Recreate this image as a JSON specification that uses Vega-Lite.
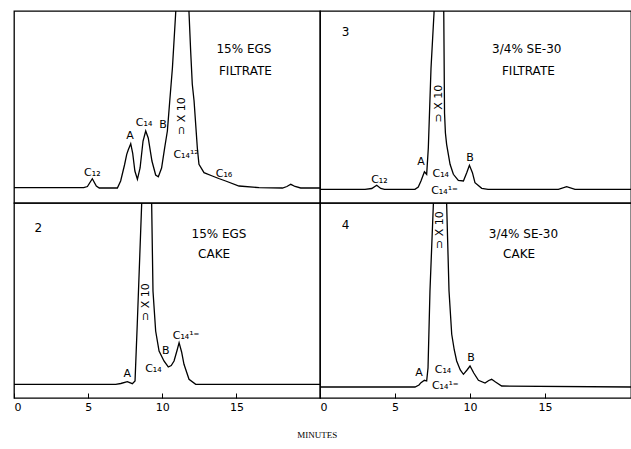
{
  "$schema": "https://vega.github.io/schema/vega-lite/v6.json",
  "padding": {"left": 12, "top": 10, "right": 0, "bottom": 0},
  "background": "white",
  "title": {"text": "MINUTES", "orient": "bottom", "anchor": "middle", "font": "Liberation Serif", "fontSize": 9, "fontWeight": "normal", "color": "black", "offset": 18, "dx": -5},
  "datasets": {
    "curves": [
      {"p": "TL", "t": 0, "v": 15.3}, {"p": "TL", "t": 4.7, "v": 15.3}, {"p": "TL", "t": 4.95, "v": 16.5}, {"p": "TL", "t": 5.28, "v": 24.3}, {"p": "TL", "t": 5.55, "v": 17}, {"p": "TL", "t": 5.75, "v": 15},
      {"p": "TL", "t": 6.97, "v": 15}, {"p": "TL", "t": 7.19, "v": 22}, {"p": "TL", "t": 7.45, "v": 38}, {"p": "TL", "t": 7.6, "v": 48.7}, {"p": "TL", "t": 7.7, "v": 53}, {"p": "TL", "t": 7.87, "v": 59.3},
      {"p": "TL", "t": 8.0, "v": 50}, {"p": "TL", "t": 8.15, "v": 32}, {"p": "TL", "t": 8.32, "v": 23.7}, {"p": "TL", "t": 8.5, "v": 35}, {"p": "TL", "t": 8.7, "v": 62}, {"p": "TL", "t": 8.88, "v": 72},
      {"p": "TL", "t": 9.05, "v": 65}, {"p": "TL", "t": 9.3, "v": 42}, {"p": "TL", "t": 9.55, "v": 28}, {"p": "TL", "t": 9.73, "v": 26.3}, {"p": "TL", "t": 9.95, "v": 35}, {"p": "TL", "t": 10.16, "v": 55.3},
      {"p": "TL", "t": 10.34, "v": 72}, {"p": "TL", "t": 10.5, "v": 102}, {"p": "TL", "t": 10.68, "v": 135}, {"p": "TL", "t": 10.9, "v": 190}, {"p": "TL", "t": 11.35, "v": 330}, {"p": "TL", "t": 11.8, "v": 190},
      {"p": "TL", "t": 11.91, "v": 152}, {"p": "TL", "t": 12.02, "v": 118.7}, {"p": "TL", "t": 12.14, "v": 102}, {"p": "TL", "t": 12.36, "v": 55}, {"p": "TL", "t": 12.47, "v": 38.7}, {"p": "TL", "t": 12.81, "v": 30.3},
      {"p": "TL", "t": 13.37, "v": 27}, {"p": "TL", "t": 13.8, "v": 24.5}, {"p": "TL", "t": 14.27, "v": 22}, {"p": "TL", "t": 15.17, "v": 17}, {"p": "TL", "t": 16.52, "v": 15.3}, {"p": "TL", "t": 18.1, "v": 15},
      {"p": "TL", "t": 18.4, "v": 16.5}, {"p": "TL", "t": 18.66, "v": 18.7}, {"p": "TL", "t": 18.95, "v": 16.5}, {"p": "TL", "t": 19.33, "v": 15}, {"p": "TL", "t": 20.63, "v": 15},

      {"p": "TR", "t": 0, "v": 13.7}, {"p": "TR", "t": 3.0, "v": 13.7}, {"p": "TR", "t": 3.45, "v": 14.5}, {"p": "TR", "t": 3.78, "v": 17.7}, {"p": "TR", "t": 4.05, "v": 14.5}, {"p": "TR", "t": 4.3, "v": 13.7},
      {"p": "TR", "t": 6.33, "v": 13.7}, {"p": "TR", "t": 6.55, "v": 16}, {"p": "TR", "t": 6.73, "v": 22}, {"p": "TR", "t": 6.96, "v": 31.3}, {"p": "TR", "t": 7.11, "v": 28.7}, {"p": "TR", "t": 7.22, "v": 55},
      {"p": "TR", "t": 7.4, "v": 135}, {"p": "TR", "t": 7.6, "v": 190}, {"p": "TR", "t": 7.93, "v": 420}, {"p": "TR", "t": 8.25, "v": 190}, {"p": "TR", "t": 8.3, "v": 90}, {"p": "TR", "t": 8.36, "v": 70},
      {"p": "TR", "t": 8.44, "v": 58.7}, {"p": "TR", "t": 8.67, "v": 38.7}, {"p": "TR", "t": 8.89, "v": 28.7}, {"p": "TR", "t": 9.22, "v": 22.7}, {"p": "TR", "t": 9.56, "v": 22}, {"p": "TR", "t": 9.78, "v": 30.3},
      {"p": "TR", "t": 9.96, "v": 37.7}, {"p": "TR", "t": 10.16, "v": 30.3}, {"p": "TR", "t": 10.33, "v": 20.3}, {"p": "TR", "t": 10.78, "v": 14.7}, {"p": "TR", "t": 11.2, "v": 13.7}, {"p": "TR", "t": 15.89, "v": 13.7},
      {"p": "TR", "t": 16.44, "v": 16.3}, {"p": "TR", "t": 17.0, "v": 13.7}, {"p": "TR", "t": 20.73, "v": 13.7},

      {"p": "BL", "t": 0, "v": 13.7}, {"p": "BL", "t": 6.86, "v": 13.7}, {"p": "BL", "t": 7.2, "v": 14.5}, {"p": "BL", "t": 7.64, "v": 16.3}, {"p": "BL", "t": 7.98, "v": 14.3}, {"p": "BL", "t": 8.16, "v": 17},
      {"p": "BL", "t": 8.31, "v": 73.7}, {"p": "BL", "t": 8.61, "v": 195}, {"p": "BL", "t": 8.95, "v": 420}, {"p": "BL", "t": 9.28, "v": 195}, {"p": "BL", "t": 9.37, "v": 107}, {"p": "BL", "t": 9.55, "v": 67},
      {"p": "BL", "t": 9.78, "v": 47}, {"p": "BL", "t": 10.11, "v": 37}, {"p": "BL", "t": 10.4, "v": 31}, {"p": "BL", "t": 10.6, "v": 32.5}, {"p": "BL", "t": 10.79, "v": 37}, {"p": "BL", "t": 11.0, "v": 48},
      {"p": "BL", "t": 11.13, "v": 55.3}, {"p": "BL", "t": 11.3, "v": 46}, {"p": "BL", "t": 11.46, "v": 33.7}, {"p": "BL", "t": 11.8, "v": 18.7}, {"p": "BL", "t": 12.25, "v": 13.7}, {"p": "BL", "t": 20.63, "v": 13.7},

      {"p": "BR", "t": 0, "v": 11}, {"p": "BR", "t": 6.33, "v": 11}, {"p": "BR", "t": 6.6, "v": 13}, {"p": "BR", "t": 6.73, "v": 15.3}, {"p": "BR", "t": 6.96, "v": 17.7}, {"p": "BR", "t": 7.11, "v": 17},
      {"p": "BR", "t": 7.2, "v": 30}, {"p": "BR", "t": 7.33, "v": 107}, {"p": "BR", "t": 7.56, "v": 195}, {"p": "BR", "t": 8.0, "v": 420}, {"p": "BR", "t": 8.44, "v": 195}, {"p": "BR", "t": 8.6, "v": 107},
      {"p": "BR", "t": 8.78, "v": 63.7}, {"p": "BR", "t": 8.95, "v": 48}, {"p": "BR", "t": 9.11, "v": 37}, {"p": "BR", "t": 9.35, "v": 28}, {"p": "BR", "t": 9.56, "v": 23.7}, {"p": "BR", "t": 9.8, "v": 28},
      {"p": "BR", "t": 10.0, "v": 32}, {"p": "BR", "t": 10.25, "v": 25}, {"p": "BR", "t": 10.56, "v": 17.7}, {"p": "BR", "t": 11.0, "v": 15}, {"p": "BR", "t": 11.25, "v": 17.5}, {"p": "BR", "t": 11.44, "v": 18.7},
      {"p": "BR", "t": 11.7, "v": 16}, {"p": "BR", "t": 12.11, "v": 12}, {"p": "BR", "t": 20.73, "v": 11}
    ],
    "labels": [
      {"p": "TL", "k": "big", "t": 15.5, "v": 153.7, "s": "15% EGS"},
      {"p": "TL", "k": "big", "t": 15.6, "v": 132, "s": "FILTRATE"},
      {"p": "TL", "k": "lab", "t": 5.28, "v": 30.3, "s": "C₁₂"},
      {"p": "TL", "k": "lab", "t": 7.82, "v": 67, "s": "A"},
      {"p": "TL", "k": "lab", "t": 8.77, "v": 80, "s": "C₁₄"},
      {"p": "TL", "k": "lab", "t": 10.05, "v": 78, "s": "B"},
      {"p": "TL", "k": "rot", "t": 11.3, "v": 87, "s": "⊃ X 10"},
      {"p": "TL", "k": "lab", "t": 11.6, "v": 48, "s": "C₁₄¹²"},
      {"p": "TL", "k": "lab", "t": 14.16, "v": 29.3, "s": "C₁₆"},

      {"p": "TR", "k": "big", "t": 1.71, "v": 171.3, "s": "3"},
      {"p": "TR", "k": "big", "t": 13.78, "v": 153.7, "s": "3/4% SE-30"},
      {"p": "TR", "k": "big", "t": 13.89, "v": 132, "s": "FILTRATE"},
      {"p": "TR", "k": "lab", "t": 3.96, "v": 23, "s": "C₁₂"},
      {"p": "TR", "k": "lab", "t": 6.73, "v": 41.3, "s": "A"},
      {"p": "TR", "k": "lab", "t": 8.05, "v": 29.3, "s": "C₁₄"},
      {"p": "TR", "k": "lab", "t": 8.3, "v": 12, "s": "C₁₄¹⁼"},
      {"p": "TR", "k": "lab", "t": 10.0, "v": 45.3, "s": "B"},
      {"p": "TR", "k": "rot", "t": 7.9, "v": 99.5, "s": "⊃ X 10"},

      {"p": "BL", "k": "big", "t": 1.64, "v": 169.7, "s": "2"},
      {"p": "BL", "k": "big", "t": 13.82, "v": 163.7, "s": "15% EGS"},
      {"p": "BL", "k": "big", "t": 13.49, "v": 143.7, "s": "CAKE"},
      {"p": "BL", "k": "lab", "t": 7.64, "v": 24.3, "s": "A"},
      {"p": "BL", "k": "lab", "t": 9.4, "v": 29, "s": "C₁₄"},
      {"p": "BL", "k": "lab", "t": 10.23, "v": 47, "s": "B"},
      {"p": "BL", "k": "lab", "t": 11.6, "v": 62, "s": "C₁₄¹⁼"},
      {"p": "BL", "k": "rot", "t": 8.93, "v": 96, "s": "⊃ X 10"},

      {"p": "BR", "k": "big", "t": 1.71, "v": 173, "s": "4"},
      {"p": "BR", "k": "big", "t": 13.56, "v": 164.3, "s": "3/4% SE-30"},
      {"p": "BR", "k": "big", "t": 13.27, "v": 143.7, "s": "CAKE"},
      {"p": "BR", "k": "lab", "t": 6.6, "v": 25.3, "s": "A"},
      {"p": "BR", "k": "lab", "t": 8.2, "v": 27.7, "s": "C₁₄"},
      {"p": "BR", "k": "lab", "t": 8.35, "v": 12, "s": "C₁₄¹⁼"},
      {"p": "BR", "k": "lab", "t": 10.07, "v": 40.3, "s": "B"},
      {"p": "BR", "k": "rot", "t": 8.0, "v": 168, "s": "⊃ X 10"}
    ]
  },
  "columns": 2,
  "spacing": 0,
  "bounds": "flush",
  "align": "each",
  "concat": [
    {
      "width": 306, "height": 192,
      "layer": [
        {"data": {"name": "curves"}, "transform": [{"filter": "datum.p === 'TL'"}], "mark": {"type": "line", "color": "black", "strokeWidth": 1.3, "clip": true},
         "encoding": {"x": {"field": "t", "type": "quantitative", "scale": {"domain": [0, 20.63], "nice": false}, "axis": null}, "y": {"field": "v", "type": "quantitative", "scale": {"domain": [0, 192], "nice": false}, "axis": null}, "order": {"field": "t"}}},
        {"data": {"name": "labels"}, "transform": [{"filter": "datum.p === 'TL' && datum.k === 'lab'"}], "mark": {"type": "text", "font": "DejaVu Sans", "fontSize": 11, "color": "black"},
         "encoding": {"x": {"field": "t", "type": "quantitative"}, "y": {"field": "v", "type": "quantitative"}, "text": {"field": "s"}}},
        {"data": {"name": "labels"}, "transform": [{"filter": "datum.p === 'TL' && datum.k === 'big'"}], "mark": {"type": "text", "font": "DejaVu Sans", "fontSize": 12, "color": "black"},
         "encoding": {"x": {"field": "t", "type": "quantitative"}, "y": {"field": "v", "type": "quantitative"}, "text": {"field": "s"}}},
        {"data": {"name": "labels"}, "transform": [{"filter": "datum.p === 'TL' && datum.k === 'rot'"}], "mark": {"type": "text", "font": "DejaVu Sans", "fontSize": 11, "angle": 270, "color": "black"},
         "encoding": {"x": {"field": "t", "type": "quantitative"}, "y": {"field": "v", "type": "quantitative"}, "text": {"field": "s"}}}
      ]
    },
    {
      "width": 311, "height": 192,
      "layer": [
        {"data": {"name": "curves"}, "transform": [{"filter": "datum.p === 'TR'"}], "mark": {"type": "line", "color": "black", "strokeWidth": 1.3, "clip": true},
         "encoding": {"x": {"field": "t", "type": "quantitative", "scale": {"domain": [0, 20.73], "nice": false}, "axis": null}, "y": {"field": "v", "type": "quantitative", "scale": {"domain": [0, 192], "nice": false}, "axis": null}, "order": {"field": "t"}}},
        {"data": {"name": "labels"}, "transform": [{"filter": "datum.p === 'TR' && datum.k === 'lab'"}], "mark": {"type": "text", "font": "DejaVu Sans", "fontSize": 11, "color": "black"},
         "encoding": {"x": {"field": "t", "type": "quantitative"}, "y": {"field": "v", "type": "quantitative"}, "text": {"field": "s"}}},
        {"data": {"name": "labels"}, "transform": [{"filter": "datum.p === 'TR' && datum.k === 'big'"}], "mark": {"type": "text", "font": "DejaVu Sans", "fontSize": 12, "color": "black"},
         "encoding": {"x": {"field": "t", "type": "quantitative"}, "y": {"field": "v", "type": "quantitative"}, "text": {"field": "s"}}},
        {"data": {"name": "labels"}, "transform": [{"filter": "datum.p === 'TR' && datum.k === 'rot'"}], "mark": {"type": "text", "font": "DejaVu Sans", "fontSize": 11, "angle": 270, "color": "black"},
         "encoding": {"x": {"field": "t", "type": "quantitative"}, "y": {"field": "v", "type": "quantitative"}, "text": {"field": "s"}}}
      ]
    },
    {
      "width": 306, "height": 195,
      "layer": [
        {"data": {"name": "curves"}, "transform": [{"filter": "datum.p === 'BL'"}], "mark": {"type": "line", "color": "black", "strokeWidth": 1.3, "clip": true},
         "encoding": {"x": {"field": "t", "type": "quantitative", "scale": {"domain": [0, 20.63], "nice": false}, "axis": {"values": [0, 5, 10, 15], "title": null, "domain": false, "tickSize": -5, "tickColor": "black", "labelPadding": 8, "labelFont": "DejaVu Sans", "labelFontSize": 11, "labelColor": "black", "grid": false}}, "y": {"field": "v", "type": "quantitative", "scale": {"domain": [0, 195], "nice": false}, "axis": null}, "order": {"field": "t"}}},
        {"data": {"name": "labels"}, "transform": [{"filter": "datum.p === 'BL' && datum.k === 'lab'"}], "mark": {"type": "text", "font": "DejaVu Sans", "fontSize": 11, "color": "black"},
         "encoding": {"x": {"field": "t", "type": "quantitative"}, "y": {"field": "v", "type": "quantitative"}, "text": {"field": "s"}}},
        {"data": {"name": "labels"}, "transform": [{"filter": "datum.p === 'BL' && datum.k === 'big'"}], "mark": {"type": "text", "font": "DejaVu Sans", "fontSize": 12, "color": "black"},
         "encoding": {"x": {"field": "t", "type": "quantitative"}, "y": {"field": "v", "type": "quantitative"}, "text": {"field": "s"}}},
        {"data": {"name": "labels"}, "transform": [{"filter": "datum.p === 'BL' && datum.k === 'rot'"}], "mark": {"type": "text", "font": "DejaVu Sans", "fontSize": 11, "angle": 270, "color": "black"},
         "encoding": {"x": {"field": "t", "type": "quantitative"}, "y": {"field": "v", "type": "quantitative"}, "text": {"field": "s"}}}
      ]
    },
    {
      "width": 311, "height": 195,
      "layer": [
        {"data": {"name": "curves"}, "transform": [{"filter": "datum.p === 'BR'"}], "mark": {"type": "line", "color": "black", "strokeWidth": 1.3, "clip": true},
         "encoding": {"x": {"field": "t", "type": "quantitative", "scale": {"domain": [0, 20.73], "nice": false}, "axis": {"values": [0, 5, 10, 15], "title": null, "domain": false, "tickSize": -5, "tickColor": "black", "labelPadding": 8, "labelFont": "DejaVu Sans", "labelFontSize": 11, "labelColor": "black", "grid": false}}, "y": {"field": "v", "type": "quantitative", "scale": {"domain": [0, 195], "nice": false}, "axis": null}, "order": {"field": "t"}}},
        {"data": {"name": "labels"}, "transform": [{"filter": "datum.p === 'BR' && datum.k === 'lab'"}], "mark": {"type": "text", "font": "DejaVu Sans", "fontSize": 11, "color": "black"},
         "encoding": {"x": {"field": "t", "type": "quantitative"}, "y": {"field": "v", "type": "quantitative"}, "text": {"field": "s"}}},
        {"data": {"name": "labels"}, "transform": [{"filter": "datum.p === 'BR' && datum.k === 'big'"}], "mark": {"type": "text", "font": "DejaVu Sans", "fontSize": 12, "color": "black"},
         "encoding": {"x": {"field": "t", "type": "quantitative"}, "y": {"field": "v", "type": "quantitative"}, "text": {"field": "s"}}},
        {"data": {"name": "labels"}, "transform": [{"filter": "datum.p === 'BR' && datum.k === 'rot'"}], "mark": {"type": "text", "font": "DejaVu Sans", "fontSize": 11, "angle": 270, "color": "black"},
         "encoding": {"x": {"field": "t", "type": "quantitative"}, "y": {"field": "v", "type": "quantitative"}, "text": {"field": "s"}}}
      ]
    }
  ],
  "config": {
    "view": {"stroke": "black", "strokeWidth": 1.3},
    "axis": {"grid": false}
  }
}
